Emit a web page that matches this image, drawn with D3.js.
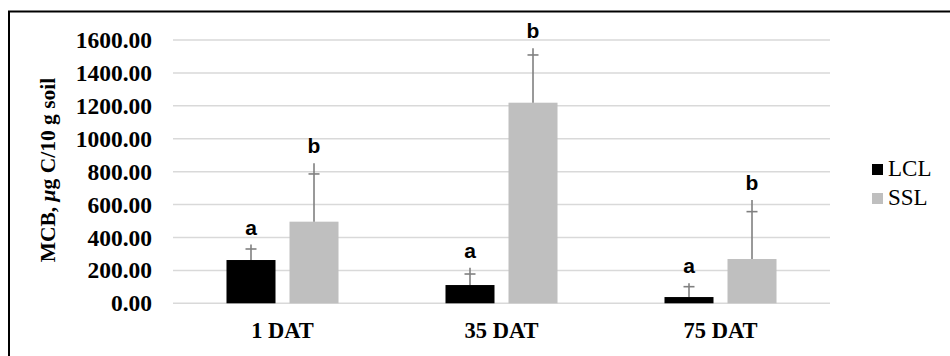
<!DOCTYPE html>
<html>
<head>
<meta charset="utf-8">
<script src="https://cdn.jsdelivr.net/npm/d3@7"></script>
<style>
  body { margin: 0; background: #fff; }
  svg { display: block; }
  .serif { font-family: "Liberation Serif", "Times New Roman", Times, serif; }
  .sans { font-family: "Liberation Sans", Arial, sans-serif; }
</style>
</head>
<body>
<div id="chart"></div>
<script>
// values
const categories = ["1 DAT", "35 DAT", "75 DAT"];
const seriesNames = ["LCL", "SSL"];
const lclMean = [263, 111, 38];
const sslMean = [496, 1219, 269];
const lclCap = [330, 178, 101];   // error bar cap
const sslCap = [786, 1509, 557];
const lclTop = [357, 216, 122];   // whisker end above the cap
const sslTop = [851, 1550, 628];
const lclLetters = ["a", "a", "a"];
const sslLetters = ["b", "b", "b"];
const yTicks = [0, 200, 400, 600, 800, 1000, 1200, 1400, 1600];

const seriesColor = { LCL: "#000000", SSL: "#bfbfbf" };
const errColor = "#808080";

const width = 950, height = 356;
const plot = { left: 173, right: 830, top: 40, bottom: 303.3 };

const rows = [];
categories.forEach((c, i) => {
    rows.push({ cat: c, series: "LCL", v: lclMean[i], cap: lclCap[i], top: lclTop[i], letter: lclLetters[i] });
    rows.push({ cat: c, series: "SSL", v: sslMean[i], cap: sslCap[i], top: sslTop[i], letter: sslLetters[i] });
});

const svg = d3.select("#chart").append("svg")
    .attr("width", width)
    .attr("height", height);

// outer frame (only top/left edges fall inside the picture)
svg.append("rect")
    .attr("x", 9).attr("y", 11.5)
    .attr("width", 1000).attr("height", 400)
    .style("fill", "none")
    .style("stroke", "#000")
    .style("stroke-width", 2);

const x0 = d3.scaleBand()
    .domain(categories)
    .range([plot.left, plot.right])
    .padding(0);

const x1 = d3.scaleBand()
    .domain(seriesNames)
    .range([0, x0.bandwidth()])
    .paddingInner(14 / 63)
    .paddingOuter(0.849);

const y = d3.scaleLinear()
    .domain([0, 1600])
    .range([plot.bottom, plot.top]);

// gridlines
svg.append("g")
    .selectAll("line")
    .data(yTicks)
    .join("line")
    .attr("x1", plot.left)
    .attr("x2", plot.right)
    .attr("y1", d => y(d))
    .attr("y2", d => y(d))
    .style("stroke", "#d9d9d9")
    .style("stroke-width", 1.5);

// y axis labels
const yAxis = svg.append("g")
    .attr("transform", `translate(${plot.left},0)`)
    .call(d3.axisLeft(y).tickValues(yTicks).tickSize(0).tickPadding(21).tickFormat(d3.format(".2f")));
yAxis.select(".domain").remove();
yAxis.attr("font-family", null).attr("font-size", null);
yAxis.selectAll("text")
    .attr("class", "serif")
    .style("font-size", "23.5px")
    .style("font-weight", "bold")
    .style("fill", "#000");

// x axis labels
svg.append("g")
    .selectAll("text")
    .data(categories)
    .join("text")
    .attr("class", "serif")
    .attr("x", d => x0(d) + x0.bandwidth() / 2)
    .attr("y", 338)
    .attr("text-anchor", "middle")
    .text(d => d)
    .style("font-size", "22.5px")
    .style("font-weight", "bold");

// y axis title
const title = svg.append("text")
    .attr("class", "serif")
    .attr("transform", `translate(55,170) rotate(-90)`)
    .attr("text-anchor", "middle")
    .style("font-size", "21.5px")
    .style("font-weight", "bold");
title.append("tspan").text("MCB, ");
title.append("tspan").text("\u03bc").style("font-style", "italic");
title.append("tspan").text("g C/10 g soil");

const barX = d => x0(d.cat) + x1(d.series);
const midX = d => barX(d) + x1.bandwidth() / 2;

// bars
svg.append("g")
    .selectAll("rect")
    .data(rows)
    .join("rect")
    .attr("x", barX)
    .attr("y", d => y(d.v))
    .attr("width", x1.bandwidth())
    .attr("height", d => y(0) - y(d.v))
    .style("fill", d => seriesColor[d.series]);

// error bars
const err = svg.append("g")
    .style("stroke", errColor)
    .style("stroke-width", 1.6);

err.selectAll(".whisker")
    .data(rows)
    .join("line")
    .attr("class", "whisker")
    .attr("x1", midX).attr("x2", midX)
    .attr("y1", d => y(d.v))
    .attr("y2", d => y(d.top));

err.selectAll(".cap")
    .data(rows)
    .join("line")
    .attr("class", "cap")
    .attr("x1", d => midX(d) - 5.5)
    .attr("x2", d => midX(d) + 5.5)
    .attr("y1", d => y(d.cap))
    .attr("y2", d => y(d.cap));

// significance letters
svg.append("g")
    .selectAll("text")
    .data(rows)
    .join("text")
    .attr("class", "sans")
    .attr("x", midX)
    .attr("y", d => y(d.top) - 10)
    .attr("text-anchor", "middle")
    .text(d => d.letter)
    .style("font-size", "21px")
    .style("font-weight", "bold");

// legend
const legend = svg.append("g")
    .selectAll("g")
    .data(seriesNames)
    .join("g")
    .attr("transform", (d, i) => `translate(872,${176 + i * 29})`);

legend.append("rect")
    .attr("x", 0)
    .attr("y", -12)
    .attr("width", 11)
    .attr("height", 11)
    .style("fill", d => seriesColor[d]);

legend.append("text")
    .attr("class", "serif")
    .attr("x", 16)
    .attr("y", 0)
    .text(d => d)
    .style("font-size", "23px");
</script>
</body>
</html>
